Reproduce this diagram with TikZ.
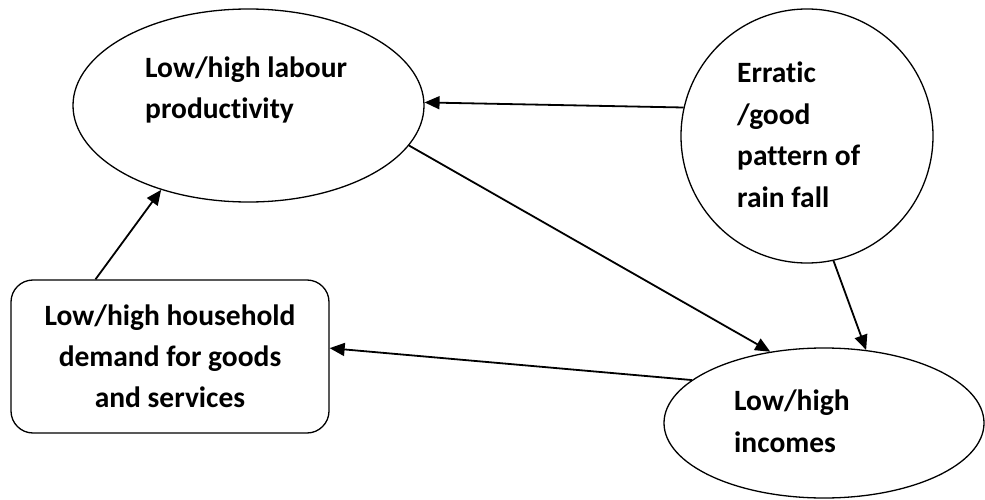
\documentclass[tikz,border=0pt]{standalone}
\usepackage{fontspec}
\setmainfont{Carlito}[Ligatures=NoCommon]
\usepackage{tikz}
\usetikzlibrary{shapes.geometric,arrows.meta}
\tikzstyle{oval} = [draw, ellipse, line width=1.3pt, inner sep=0pt]
\tikzstyle{roundbox} = [draw, rectangle, rounded corners=22pt, line width=1.3pt, minimum width=318pt, minimum height=153pt, align=center, font=\bfseries\fontsize{29.5}{41}\selectfont]
\tikzstyle{txt} = [inner sep=0pt, align=left, anchor=base west, font=\bfseries\fontsize{29.5}{41.5}\selectfont]
\tikzstyle{link} = [line width=1.8pt, -{Triangle[length=15pt,width=13pt]}]

\begin{document}
\begin{tikzpicture}[x=1pt, y=-1pt]
	\useasboundingbox (0,0) rectangle (985,500);
	\node[oval, minimum width=351pt, minimum height=193pt] (prod) at (248.5,105.5) {};
	\node[txt] (prodtxt) at (145,119) {Low/high labour\\productivity};
	\node[oval, minimum width=252pt, minimum height=254pt] (rain) at (807,136) {};
	\node[txt] (raintxt) at (737,207) {Erratic\\/good\\pattern of\\rain fall};
	\node[oval, minimum width=320pt, minimum height=150pt] (inc) at (824,423) {};
	\node[txt] (inctxt) at (734,452) {Low/high\\incomes};
	\node[roundbox] (box) at (170,356.5) {Low/high household\\demand for goods\\and services};
	\draw[link] (rain.167) -- (prod.1);
	\draw[link] (prod.-14) -- (inc.127);
	\draw[link] (rain.-78) -- (inc.60);
	\draw[link] (inc.162) -- (box.3);
	\draw[link] (box.134) -- (prod.224);
\end{tikzpicture}
\end{document}
